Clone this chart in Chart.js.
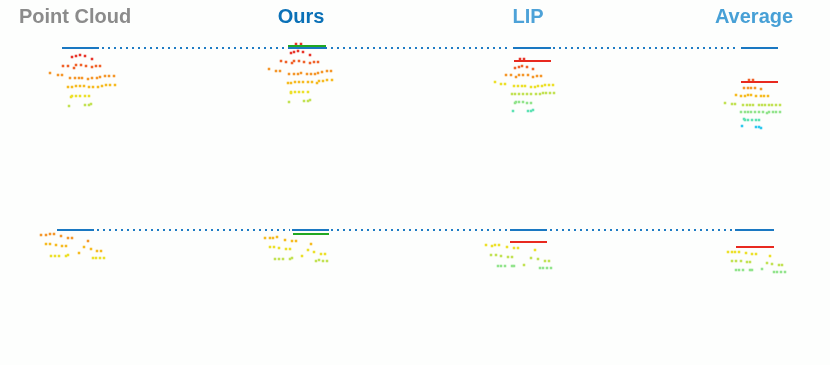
<!DOCTYPE html>
<html>
<head>
<meta charset="utf-8">
<script src="https://cdn.jsdelivr.net/npm/chart.js@4/dist/chart.umd.min.js"></script>
<style>
  html, body { margin: 0; padding: 0; background: #fdfefd; }
  #wrap { width: 830px; height: 365px; position: relative; }
</style>
</head>
<body>
<div id="wrap"><canvas id="figChart"></canvas></div>
<script>
// panel titles
const titles = ['Point Cloud', 'Ours', 'LIP', 'Average'];
const titleColors = ['#8b8b8b', '#0b71b7', '#4da2d8', '#47a0d6'];

// sampled points, grouped by colour (x, y in figure units)
const redPts = [
  [72,57],[76,56],[80,55],[85,56],[92,59],
  [296,44],[301,44],[291,53],[294,52],[298,51],[303,52],[310,55],
  [520,59],[524,59]
];
const orangeRedPts = [
  [63,66],[68,66],[74,68],[76,65],[81,65],[86,66],[92,67],[96,66],[100,66],
  [281,61],[286,62],[292,63],[294,61],[299,61],[304,62],[310,63],[314,62],[318,62],
  [515,68],[519,67],[522,66],[527,67],[533,69],
  [749,80],[753,80]
];
const orangePts = [
  [50,73],[58,75],[62,75],[70,78],[75,78],[79,78],[82,78],[88,79],[92,78],[97,78],[100,77],[105,76],[109,76],[114,76],
  [269,69],[276,71],[280,71],[289,74],[294,74],[298,74],[301,73],[307,74],[311,74],[315,74],[318,73],[322,72],[327,71],[331,71],
  [506,75],[511,75],[516,77],[519,75],[523,75],[528,75],[533,77],[537,76],[541,76],
  [744,88],[748,88],[751,88],[755,88],[761,89],
  [41,235],[46,235],[50,234],[54,234],[61,236],[68,238],[72,238],[88,241]
];
const amberPts = [
  [68,87],[72,87],[76,86],[80,86],[84,86],[89,87],[93,87],[98,87],[102,86],[106,85],[110,85],[115,85],
  [288,83],[291,83],[295,82],[299,82],[303,82],[308,82],[312,82],[317,83],[319,81],[323,81],[327,80],[332,80],
  [736,95],[741,96],[745,96],[748,95],[751,95],[756,96],[761,96],[764,96],[768,96],
  [46,244],[50,244],[56,245],[62,246],[66,246],[84,247],[91,249],[97,251],[101,251],[79,253],
  [265,238],[270,238],[273,238],[277,237],[285,240],[292,241],[296,241],[311,244]
];
const yellowPts = [
  [71,97],[72,96],[76,96],[80,96],[85,96],[89,96],
  [291,93],[291,92],[295,92],[299,92],[303,92],[308,92],
  [495,82],[501,84],[505,84],[514,86],[518,86],[522,86],[525,86],[531,87],[535,87],[538,86],[542,86],[545,85],[549,85],[553,85],
  [51,256],[55,256],[59,256],[66,256],[68,255],[93,258],[96,258],[100,258],[104,258],
  [270,247],[274,247],[279,248],[286,249],[290,249],[308,250],[314,252],[321,254],[325,254],[302,256],
  [486,245],[492,246],[495,245],[499,245],[507,247],[514,248],[518,248],[535,250],
  [728,252],[732,252],[735,252],[739,252],[746,253],[752,254],[756,254],[770,256]
];
const limePts = [
  [69,106],[85,105],[89,105],[91,104],
  [289,102],[304,101],[308,101],[310,100],
  [512,94],[515,94],[519,94],[523,94],[527,94],[531,94],[536,94],[540,94],[543,93],[546,93],[550,93],[554,93],
  [725,103],[732,104],[735,104],[743,105],[747,105],[750,105],[753,105],[759,105],[762,105],[765,105],[769,105],[772,105],[776,105],[780,105],
  [275,259],[279,259],[283,259],[290,259],[292,258],[316,261],[319,260],[323,261],[327,261],
  [491,255],[496,255],[501,256],[508,257],[512,257],[531,258],[538,259],[545,261],[549,261],[524,265],
  [732,261],[736,261],[741,261],[747,262],[750,262],[767,263],[772,264],[779,265],[782,265]
];
const greenPts = [
  [515,103],[516,102],[519,102],[523,102],[527,103],[531,103],
  [741,112],[745,112],[748,112],[751,112],[755,112],[759,112],[763,112],[767,113],[769,112],[773,112],[776,112],[780,112],
  [498,266],[501,266],[505,266],[512,266],[514,266],[540,268],[543,268],[547,268],[551,268],
  [736,270],[739,270],[743,270],[750,270],[752,270],[762,269],[774,272],[777,272],[781,272],[785,272]
];
const mintPts = [
  [513,111],[528,111],[531,111],[533,110],
  [744,119],[745,120],[748,120],[752,120],[756,120],[759,120]
];
const cyanPts = [
  [742,126],[756,127],[759,127],[761,128]
];

// reference segments: [x0, x1, y]
const blueSolid = [[62,99,48],[288,327,48],[513,551,48],[741,778,48],[57,94,230],[292,329,230],[510,547,230],[735,774,230]];
const blueDotted = [[102,285,48],[331,511,48],[553,739,48],[97,290,230],[331,508,230],[550,733,230]];
const greenSolid = [[288,326,46],[293,329,234]];
const redSolid = [[514,551,61],[741,778,82],[510,547,242],[736,774,247]];

function toXY(arr) {
  return arr.map(p => ({ x: p[0], y: p[1] }));
}

// each segment becomes two points followed by a gap
function segs(arr) {
  const out = [];
  arr.forEach(s => {
    out.push({ x: s[0], y: s[2] }, { x: s[1], y: s[2] }, { x: s[1], y: null });
  });
  return out;
}

function dots(data, color) {
  return {
    type: 'scatter',
    data: toXY(data),
    pointStyle: 'rect',
    pointRadius: 1.8,
    pointBorderWidth: 0,
    backgroundColor: color,
    borderColor: color
  };
}

function line(data, color, width, dash) {
  return {
    type: 'line',
    data: segs(data),
    borderColor: color,
    borderWidth: width,
    borderDash: dash || [],
    borderCapStyle: 'butt',
    pointRadius: 0,
    spanGaps: false,
    fill: false
  };
}

const titlePlugin = {
  id: 'panelTitles',
  afterDraw(chart) {
    const ctx = chart.ctx;
    const xs = chart.scales.x, ys = chart.scales.y;
    const titleX = [75, 301, 528, 754];
    ctx.save();
    ctx.font = 'bold 20px "Liberation Sans", Arial, sans-serif';
    ctx.textAlign = 'center';
    ctx.textBaseline = 'middle';
    titles.forEach((t, i) => {
      ctx.fillStyle = titleColors[i];
      ctx.fillText(t, xs.getPixelForValue(titleX[i]), ys.getPixelForValue(17));
    });
    ctx.restore();
  }
};

new Chart(document.getElementById('figChart'), {
  type: 'scatter',
  data: {
    datasets: [
      line(blueDotted, '#1f7cc4', 2, [2, 4]),
      line(blueSolid, '#1a78c2', 2),
      line(greenSolid, '#22a822', 2),
      line(redSolid, '#e8291f', 2),
      dots(redPts, '#e8342a'),
      dots(orangeRedPts, '#f0622a'),
      dots(orangePts, '#f5962a'),
      dots(amberPts, '#f6bb22'),
      dots(yellowPts, '#ede02a'),
      dots(limePts, '#c2e254'),
      dots(greenPts, '#92e48c'),
      dots(mintPts, '#5ee2b4'),
      dots(cyanPts, '#2ec8ee')
    ]
  },
  options: {
    responsive: true,
    maintainAspectRatio: false,
    animation: false,
    layout: { padding: 0, autoPadding: false },
    plugins: {
      legend: { display: false },
      tooltip: { enabled: false }
    },
    scales: {
      x: { type: 'linear', min: 0, max: 830, display: false },
      y: { type: 'linear', min: 0, max: 365, reverse: true, display: false }
    }
  },
  plugins: [titlePlugin]
});
</script>
</body>
</html>
